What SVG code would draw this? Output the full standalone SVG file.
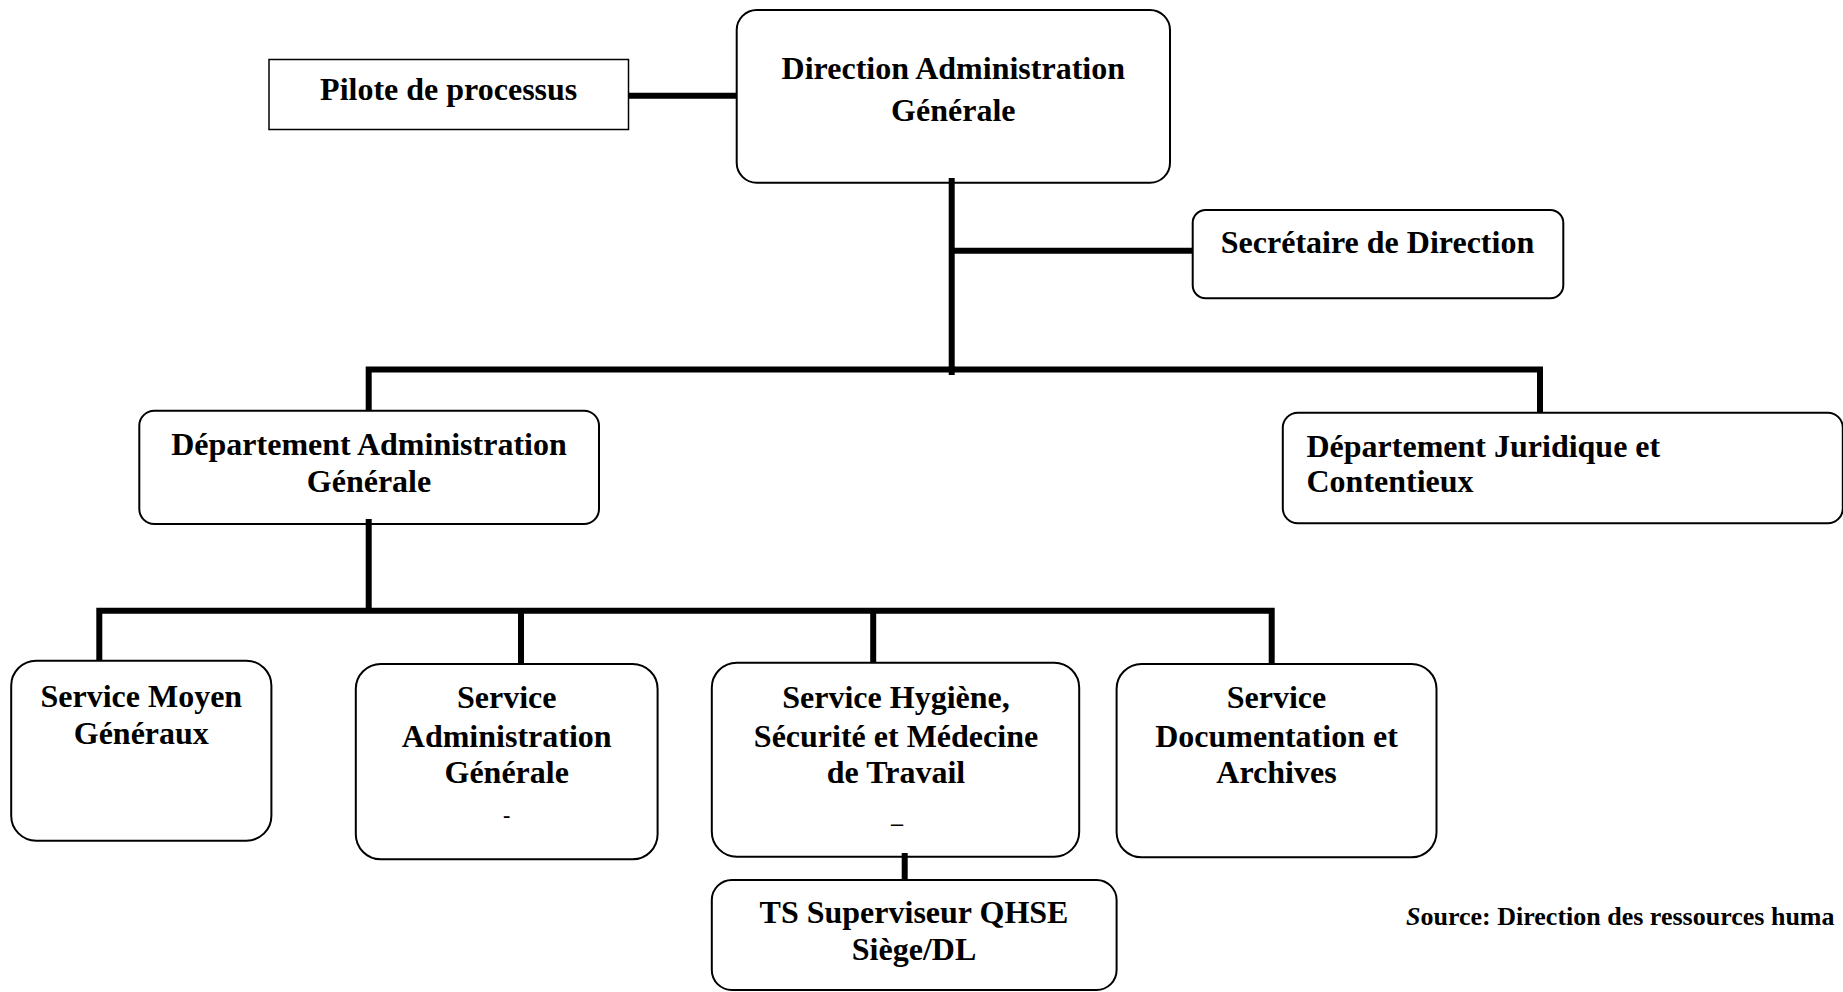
<svg xmlns="http://www.w3.org/2000/svg" width="1843" height="992" viewBox="0 0 1843 992">
<style>
.box{fill:#fff;stroke:#000;stroke-width:2}
.t{font-family:"Liberation Serif","Times New Roman",serif;font-weight:bold;font-size:32px;fill:#000}
.c{text-anchor:middle}
.ln{stroke:#000;stroke-width:6;fill:none;stroke-linecap:butt}
</style>
<rect width="1843" height="992" fill="#fff"/>
<g id="pilote">
<rect class="box" x="269" y="59.5" width="359.5" height="70" style="stroke-width:1.5"/>
<text class="t c" x="448.7" y="99.5">Pilote de processus</text>
</g>
<g id="direction">
<rect class="box" x="736.7" y="10" width="433.3" height="172.7" rx="20"/>
<text class="t c" x="953.3" y="79">Direction Administration</text>
<text class="t c" x="953.3" y="120.5">Générale</text>
</g>
<g id="secretaire">
<rect class="box" x="1192.7" y="210" width="370.6" height="88.3" rx="13"/>
<text class="t c" x="1377.5" y="252.7">Secrétaire de Direction</text>
</g>
<g id="dept-admin">
<rect class="box" x="139.3" y="410.7" width="459.7" height="113.3" rx="15"/>
<text class="t c" x="369" y="455">Département Administration</text>
<text class="t c" x="369" y="491.7">Générale</text>
</g>
<g id="dept-juridique">
<rect class="box" x="1282.8" y="412.7" width="560" height="110.6" rx="15"/>
<text class="t" x="1306.5" y="456.7">Département Juridique et</text>
<text class="t" x="1306.5" y="491.7">Contentieux</text>
</g>
<g id="service-moyen">
<rect class="box" x="11.2" y="660.7" width="260.2" height="180" rx="25"/>
<text class="t c" x="141.3" y="706.7">Service Moyen</text>
<text class="t c" x="141.3" y="744">Généraux</text>
</g>
<g id="service-admin">
<rect class="box" x="355.8" y="664" width="301.8" height="195.3" rx="25"/>
<text class="t c" x="506.7" y="708.3">Service</text>
<text class="t c" x="506.7" y="746.7">Administration</text>
<text class="t c" x="506.7" y="783.3">Générale</text>
<text class="t c" x="506.7" y="822" style="font-size:22px">-</text>
</g>
<g id="service-hygiene">
<rect class="box" x="711.8" y="662.7" width="367.4" height="194" rx="25"/>
<text class="t c" x="896" y="708.3">Service Hygiène,</text>
<text class="t c" x="896" y="746.7">Sécurité et Médecine</text>
<text class="t c" x="896" y="783.3">de Travail</text>
<text class="t c" x="897" y="831" style="font-size:24px">–</text>
</g>
<g id="service-documentation">
<rect class="box" x="1116.6" y="664" width="319.9" height="193.3" rx="25"/>
<text class="t c" x="1276.5" y="708.3">Service</text>
<text class="t c" x="1276.5" y="746.7">Documentation et</text>
<text class="t c" x="1276.5" y="783.3">Archives</text>
</g>
<g id="ts-superviseur">
<rect class="box" x="711.8" y="880" width="404.8" height="110" rx="20"/>
<text class="t c" x="914" y="923.3">TS Superviseur QHSE</text>
<text class="t c" x="914" y="960">Siège/DL</text>
</g>
<g id="connectors">
<path class="ln" d="M628.5 95.7H736.7"/>
<path class="ln" d="M951.7 178V375"/>
<path class="ln" d="M951.7 250.7H1192.7"/>
<path class="ln" d="M368.7 410.7V369.5H1540V412.7"/>
<path class="ln" d="M368.7 519V610.7"/>
<path class="ln" d="M99.3 660.7V610.7H1271.7V664"/>
<path class="ln" d="M521 610.7V664"/>
<path class="ln" d="M873.2 610.7V662.7"/>
<path class="ln" d="M904.7 853V880"/>
</g>
<text class="t" x="1406" y="925" style="font-size:26px"><tspan font-style="italic">S</tspan>ource: Direction des ressources huma</text>
</svg>
